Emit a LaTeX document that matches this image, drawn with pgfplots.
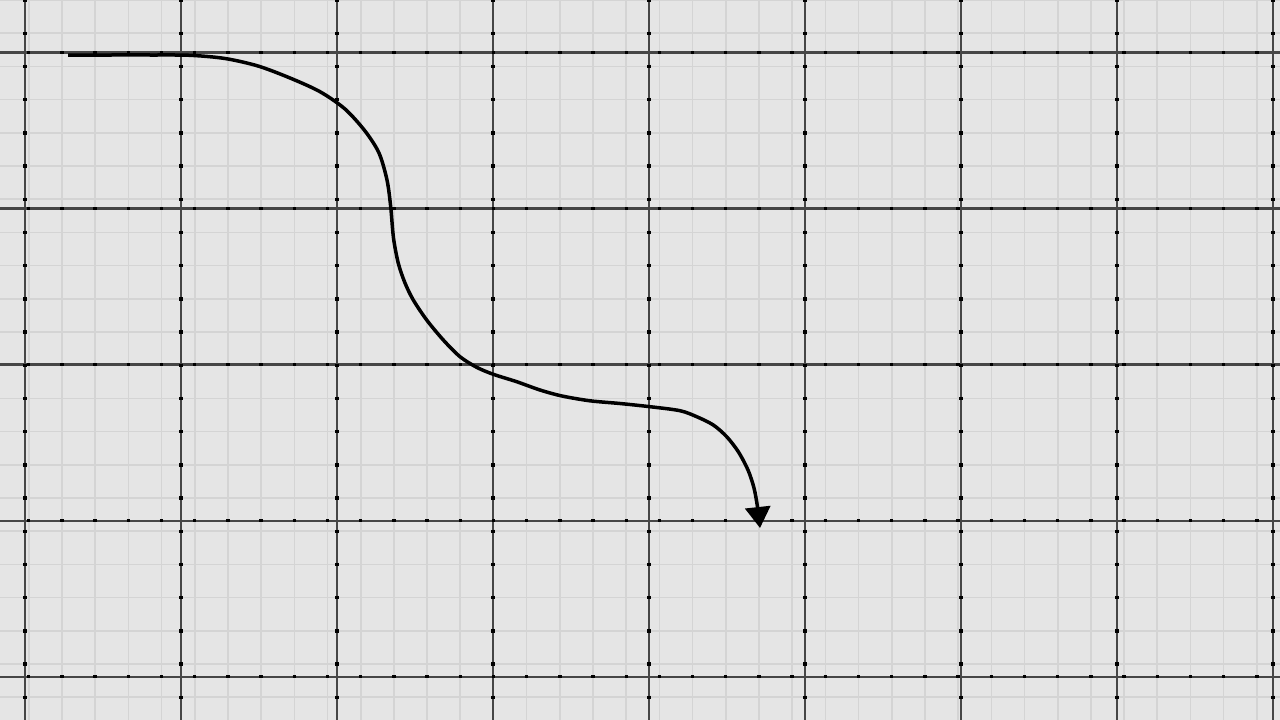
\documentclass[border=0pt]{standalone}
\usepackage{pgfplots}
\pgfplotsset{compat=1.18}
\usetikzlibrary{arrows.meta}

\definecolor{paper}{RGB}{229,229,229}
\definecolor{minorline}{RGB}{212,212,212}
\definecolor{majorline}{RGB}{70,70,70}

\begin{document}
\begin{tikzpicture}
\begin{axis}[
    width=1280pt, height=720pt,
    scale only axis,
    xmin=0, xmax=1280,
    ymin=0, ymax=720,
    y dir=reverse,
    axis line style={draw=none},
    axis background/.style={fill=paper},
    tick style={draw=none},
    xticklabels={}, yticklabels={},
    xtick={25,181,337,493,649,805,961,1117,1273},
    ytick={52.4,208.5,364.5,520.6,676.7},
    minor xtick={28.8,61.99,...,1257},
    minor ytick={0,33.2,...,698},
    grid=both,
    minor grid style={draw=minorline, line width=1.6pt},
    major grid style={draw=majorline, line width=2.2pt},
    extra x ticks={25,181,337,493,649,805,961,1117,1273},
    extra y ticks={52.4,208.5,364.5,520.6,676.7},
    extra x tick labels={}, extra y tick labels={},
    extra x tick style={major grid style={draw=black, line width=3.4pt,
        dash pattern=on 3.4pt off 29.8pt, dash phase=1.7pt}},
    extra y tick style={major grid style={draw=black, line width=3.4pt,
        dash pattern=on 3.4pt off 29.79pt, dash phase=6.1pt}},
]
\addplot[smooth, black, line width=3.5pt,
    -{Triangle[width=25pt,length=21pt]}] coordinates {
    (68,55) (110,55) (150,55) (190,55.3) (225,58.5) (258,66) (290,78)
    (320,91.7) (345,109) (365,131) (379,153) (387,180) (390.7,206.7)
    (393.5,238) (398.3,263.3) (405,283) (413.3,300) (426.7,320)
    (443.3,340) (460,356.7) (476.7,367.3) (493.3,374.3) (516.7,381.7)
    (540,390) (562,396) (590,400.8) (620,403.5) (650,406.7) (680,410.7)
    (696.7,416.7) (713.3,425) (726.7,436.7) (738.3,451.7) (748,470)
    (754,488) (757.5,507) (760,528)
};
\end{axis}
\pgfresetboundingbox
\path[use as bounding box] (current axis.south west) rectangle (current axis.north east);
\end{tikzpicture}
\end{document}
